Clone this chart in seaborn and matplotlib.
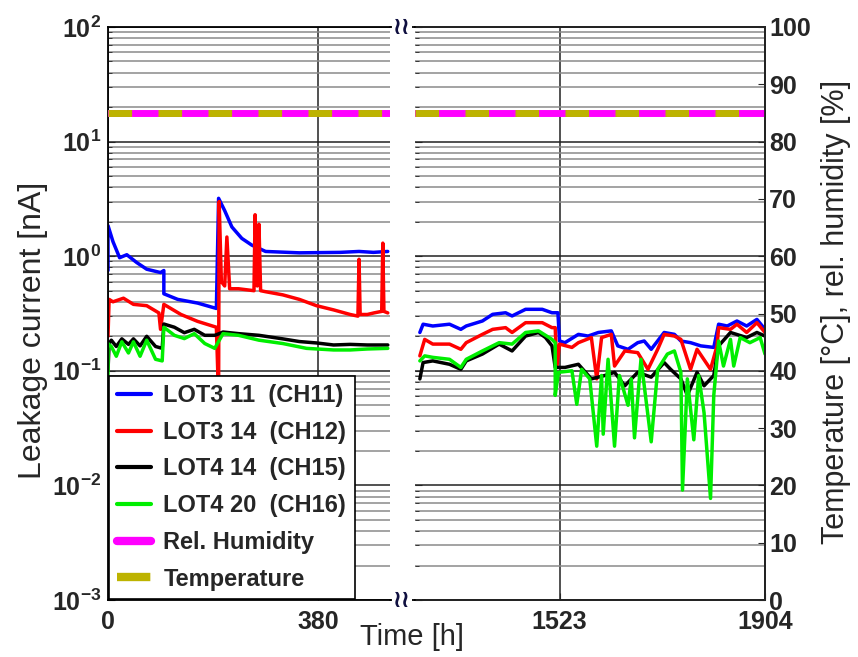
import numpy as np
import pandas as pd
import matplotlib
matplotlib.use("Agg")
import matplotlib.pyplot as plt
import seaborn as sns
from matplotlib.lines import Line2D
from matplotlib.ticker import LogLocator, NullFormatter

# ---- data (time in h, current in nA) ----
ch11_t = [0, 0, 9, 21, 34, 52, 70, 95, 101, 101, 126, 162, 196, 200, 211, 224, 242, 260, 285, 346, 420, 454, 480, 506,
          1264, 1270, 1288, 1319, 1340, 1350, 1380, 1399, 1423, 1435, 1460, 1491, 1509, 1520, 1523, 1533, 1558, 1576,
          1595, 1619, 1631, 1650, 1668, 1680, 1693, 1717, 1736, 1748, 1766, 1785, 1809, 1818, 1834, 1852, 1870, 1889, 1904]
ch11_v = [0.75, 1.85, 1.34, 0.97, 1.03, 0.88, 0.77, 0.72, 0.75, 0.47, 0.42, 0.39, 0.35, 3.2, 2.5, 1.8, 1.43, 1.25, 1.10,
          1.07, 1.08, 1.10, 1.08, 1.10,
          0.216, 0.255, 0.246, 0.255, 0.230, 0.246, 0.272, 0.311, 0.321, 0.301, 0.344, 0.344, 0.321, 0.321, 0.182, 0.176,
          0.208, 0.201, 0.216, 0.223, 0.165, 0.154, 0.176, 0.182, 0.154, 0.216, 0.208, 0.182, 0.176, 0.165, 0.160, 0.255,
          0.246, 0.272, 0.246, 0.281, 0.230]

ch12_t = [0, 2, 9, 28, 46, 70, 92, 95, 101, 132, 162, 196, 200, 201, 205, 211, 215, 220, 236, 264, 266, 270, 273, 276,
          285, 316, 346, 377, 408, 438, 452, 454, 456, 469, 481, 495, 497, 499, 506,
          1264, 1273, 1288, 1319, 1340, 1350, 1380, 1399, 1423, 1435, 1460, 1491, 1509, 1515, 1518, 1523, 1546, 1558,
          1582, 1592, 1601, 1619, 1625, 1644, 1668, 1687, 1705, 1717, 1736, 1748, 1766, 1778, 1803, 1815, 1818, 1840,
          1852, 1870, 1889, 1904]
ch12_v = [0.20, 0.42, 0.40, 0.43, 0.38, 0.37, 0.32, 0.23, 0.38, 0.31, 0.27, 0.24, 0.058, 3.0, 0.60, 0.55, 1.47, 0.52,
          0.52, 0.50, 2.3, 0.55, 1.9, 0.50, 0.49, 0.46, 0.42, 0.37, 0.34, 0.31, 0.30, 0.94, 0.31, 0.31, 0.32, 0.33, 1.3,
          0.33, 0.32,
          0.135, 0.188, 0.171, 0.171, 0.154, 0.176, 0.208, 0.230, 0.238, 0.216, 0.263, 0.263, 0.238, 0.238, 0.107, 0.171,
          0.160, 0.176, 0.195, 0.085, 0.195, 0.208, 0.110, 0.149, 0.144, 0.103, 0.154, 0.208, 0.201, 0.188, 0.103, 0.154,
          0.103, 0.165, 0.238, 0.230, 0.255, 0.216, 0.263, 0.216]

ch15_t = [0, 2, 6, 15, 25, 37, 46, 58, 70, 86, 98, 101, 120, 138, 156, 175, 193, 200, 208, 236, 273, 316, 346, 377,
          408, 438, 469, 506,
          1264, 1270, 1288, 1319, 1340, 1350, 1380, 1411, 1435, 1460, 1484, 1497, 1509, 1515, 1533, 1558, 1582, 1607,
          1625, 1644, 1668, 1693, 1717, 1729, 1748, 1760, 1778, 1791, 1809, 1818, 1840, 1870, 1889, 1904]
ch15_v = [0.10, 0.173, 0.185, 0.163, 0.19, 0.17, 0.19, 0.165, 0.20, 0.163, 0.157, 0.256, 0.24, 0.215, 0.23, 0.204,
          0.204, 0.21, 0.218, 0.211, 0.204, 0.19, 0.18, 0.175, 0.168, 0.17, 0.168, 0.168,
          0.085, 0.118, 0.122, 0.114, 0.103, 0.122, 0.140, 0.171, 0.149, 0.201, 0.216, 0.195, 0.165, 0.107, 0.107,
          0.114, 0.085, 0.091, 0.097, 0.074, 0.097, 0.088, 0.118, 0.103, 0.085, 0.061, 0.097, 0.074, 0.091, 0.165,
          0.216, 0.195, 0.216, 0.201]

ch16_t = [0, 0, 6, 15, 25, 37, 46, 58, 70, 86, 98, 101, 120, 138, 156, 175, 193, 208, 236, 273, 316, 359, 408, 438,
          469, 506,
          1264, 1273, 1288, 1319, 1340, 1350, 1380, 1411, 1435, 1460, 1484, 1509, 1515, 1515, 1521, 1546, 1555, 1564,
          1579, 1592, 1601, 1604, 1613, 1625, 1634, 1650, 1656, 1662, 1674, 1693, 1705, 1723, 1736, 1748, 1751, 1760,
          1772, 1781, 1791, 1803, 1809, 1818, 1827, 1840, 1846, 1858, 1876, 1895, 1904]
ch16_v = [0.060, 0.173, 0.163, 0.134, 0.179, 0.143, 0.179, 0.134, 0.185, 0.126, 0.122, 0.24, 0.204, 0.191, 0.211,
          0.173, 0.157, 0.211, 0.204, 0.185, 0.173, 0.157, 0.152, 0.152, 0.155, 0.157,
          0.122, 0.135, 0.131, 0.126, 0.107, 0.126, 0.149, 0.176, 0.171, 0.216, 0.223, 0.188, 0.176, 0.061, 0.097,
          0.100, 0.051, 0.103, 0.085, 0.022, 0.091, 0.028, 0.126, 0.022, 0.091, 0.050, 0.085, 0.026, 0.126, 0.024,
          0.103, 0.140, 0.149, 0.097, 0.0091, 0.085, 0.025, 0.091, 0.043, 0.0077, 0.061, 0.182, 0.110, 0.188, 0.110,
          0.195, 0.176, 0.195, 0.140]

# climate (right axis, %)
clim_t = [0, 510, 1255, 1904]
rh_v = [85, 85, 85, 85]
temp_v = [85, 85, 85, 85]

labels = ["LOT3 11  (CH11)", "LOT3 14  (CH12)", "LOT4 14  (CH15)", "LOT4 20  (CH16)"]
colors = ["#0000ff", "#ff0000", "#000000", "#00ee00"]
olive = "#bdb300"

frames = []
for lab, t, v in zip(labels, [ch11_t, ch12_t, ch15_t, ch16_t], [ch11_v, ch12_v, ch15_v, ch16_v]):
    frames.append(pd.DataFrame({"time": t, "current": v, "channel": lab}))
df = pd.concat(frames, ignore_index=True)
clim = pd.DataFrame({"time": clim_t, "rh": rh_v, "temp": temp_v})

sns.set_style("ticks")
plt.rcParams["font.family"] = ["Liberation Sans", "DejaVu Sans"]
plt.rcParams["font.weight"] = "bold"
plt.rcParams["mathtext.fontset"] = "custom"
plt.rcParams["mathtext.rm"] = "Liberation Sans"
plt.rcParams["mathtext.bf"] = "Liberation Sans:bold"

fig = plt.figure(figsize=(8.58, 6.57), dpi=100)
W, H = 858, 657
TOP, BOT = 27, 600
axL = fig.add_axes([108 / W, 1 - BOT / H, 282 / W, (BOT - TOP) / H])
axR = fig.add_axes([415 / W, 1 - BOT / H, 350 / W, (BOT - TOP) / H])

pal = dict(zip(labels, colors))
for ax, (x0, x1), xt in [(axL, (0, 510), [0, 380]), (axR, (1255, 1904), [1523, 1904])]:
    sub = df[(df["time"] >= x0) & (df["time"] <= x1)]
    sns.lineplot(data=sub, x="time", y="current", hue="channel", palette=pal, estimator=None,
                 sort=False, legend=False, lw=2.5, ax=ax)
    ax.set_yscale("log")
    ax.set_ylim(1e-3, 1e2)
    ax.set_xlim(x0, x1)
    ax.set_xticks(xt)
    ax.set_yticks([1e-3, 1e-2, 1e-1, 1e0, 1e1, 1e2])
    ax.yaxis.set_minor_locator(LogLocator(base=10, subs=np.arange(2, 10), numticks=20))
    ax.yaxis.set_minor_formatter(NullFormatter())
    ax.grid(True, which="major", axis="both", color="#222222", lw=1.1)
    ax.grid(True, which="minor", axis="y", color="#8a8a8a", lw=1.1)
    ax.set_xlabel("")
    ax.set_ylabel("")
    ax.tick_params(direction="in", labelsize=18, length=5, pad=7)
    ax.tick_params(which="minor", direction="in", length=3)
    for s in ax.spines.values():
        s.set_color("black")
        s.set_linewidth(1.3)

axL.set_yticklabels([r"$\mathbf{10^{-3}}$", r"$\mathbf{10^{-2}}$", r"$\mathbf{10^{-1}}$",
                     r"$\mathbf{10^{0}}$", r"$\mathbf{10^{1}}$", r"$\mathbf{10^{2}}$"], fontsize=18)
axL.tick_params(axis="y", pad=5)
axL.spines["right"].set_visible(False)
axR.spines["left"].set_visible(False)
axR.tick_params(axis="y", which="both", left=False, labelleft=False)

# right axis: temperature and humidity
tL = axL.twinx()
tR = axR.twinx()
for tw, ax, (x0, x1) in [(tL, axL, (0, 510)), (tR, axR, (1255, 1904))]:
    part = clim[(clim["time"] >= x0) & (clim["time"] <= x1)]
    sns.lineplot(data=part, x="time", y="rh", color="#ff00ff", lw=5, ax=tw, estimator=None)
    sns.lineplot(data=part, x="time", y="temp", color=olive, lw=5, ax=tw, estimator=None,
                 linestyle=(0, (3.4, 3.8)))
    tw.set_ylim(0, 100)
    tw.set_xlim(x0, x1)
    tw.set_xlabel("")
    tw.set_ylabel("")
tL.set_yticks([])
for s in tL.spines.values():
    s.set_visible(False)
tR.set_yticks(range(0, 101, 10))
tR.tick_params(direction="in", labelsize=18, length=5, pad=3)
tR.spines["left"].set_visible(False)
for s in tR.spines.values():
    s.set_linewidth(1.3)

# broken-axis joins
for yy in (BOT, TOP):
    fig.add_artist(Line2D([390 / W, 415 / W], [1 - yy / H, 1 - yy / H], transform=fig.transFigure,
                          color="black", lw=1.3))
    fig.text(402 / W, 1 - yy / H, "≀≀", ha="center", va="center", fontsize=17, color="#101040",
             family="DejaVu Sans", fontweight="bold",
             bbox=dict(facecolor="white", edgecolor="none", pad=0.5))

# legend
handles = [Line2D([], [], color=c, lw=3) for c in colors]
handles.append(Line2D([], [], color="#ff00ff", lw=6))
handles.append(Line2D([], [], color=olive, lw=6, linestyle=(0, (4.0, 4))))
leg = tL.legend(handles, labels + ["Rel. Humidity", "Temperature"], loc="lower left",
                bbox_to_anchor=(0, 0), borderaxespad=0.05, prop={"weight": "bold", "size": 17},
                handlelength=1.4, handletextpad=0.55, labelspacing=0.58, borderpad=0.35,
                fancybox=False, framealpha=1, edgecolor="black")
leg.get_frame().set_linewidth(1.2)

fig.text(33 / W, 1 - 330 / H, "Leakage current [nA]", rotation=90, ha="center", va="center",
         fontsize=23, fontweight="normal")
fig.text(836 / W, 1 - 312 / H, "Temperature [°C], rel. humidity [%]", rotation=90, ha="center",
         va="center", fontsize=22, fontweight="normal")
fig.text(412 / W, 1 - 637 / H, "Time [h]", ha="center", va="center", fontsize=21, fontweight="normal")

fig.savefig("out.png", dpi=100)
